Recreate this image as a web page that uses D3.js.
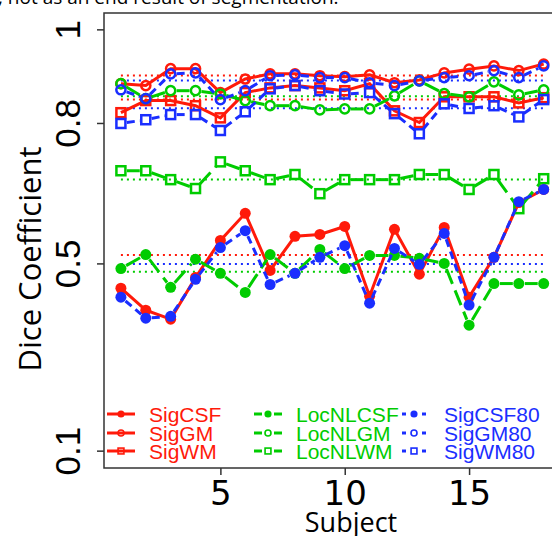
<!DOCTYPE html>
<html>
<head>
<meta charset="utf-8">
<script src="https://cdn.jsdelivr.net/npm/d3@7"></script>
<style>
  body { margin: 0; background: #fff; }
  svg { display: block; }
</style>
</head>
<body>
<script>
// values, subjects 1..18
const subjects = d3.range(1, 19)

const sigCSF   = [0.448, 0.401, 0.382, 0.471, 0.550, 0.608, 0.486, 0.559, 0.563, 0.580, 0.431, 0.574, 0.478, 0.578, 0.429, 0.514, 0.631, 0.659]
const sigGM    = [0.885, 0.881, 0.917, 0.917, 0.866, 0.895, 0.906, 0.906, 0.902, 0.900, 0.904, 0.887, 0.893, 0.908, 0.916, 0.923, 0.913, 0.927]
const sigWM    = [0.823, 0.849, 0.849, 0.838, 0.812, 0.866, 0.876, 0.881, 0.876, 0.870, 0.885, 0.827, 0.802, 0.857, 0.857, 0.857, 0.844, 0.855]
const locCSF   = [0.490, 0.520, 0.450, 0.510, 0.480, 0.439, 0.520, 0.480, 0.531, 0.490, 0.518, 0.518, 0.512, 0.501, 0.369, 0.458, 0.458, 0.458]
const locGM    = [0.885, 0.853, 0.870, 0.870, 0.863, 0.849, 0.838, 0.838, 0.829, 0.831, 0.831, 0.859, 0.891, 0.864, 0.857, 0.889, 0.861, 0.872]
const locWM    = [0.699, 0.699, 0.680, 0.661, 0.718, 0.699, 0.680, 0.691, 0.650, 0.680, 0.680, 0.680, 0.691, 0.691, 0.659, 0.691, 0.618, 0.682]
const sigCSF80 = [0.429, 0.384, 0.388, 0.467, 0.535, 0.571, 0.456, 0.480, 0.514, 0.539, 0.416, 0.533, 0.499, 0.565, 0.412, 0.514, 0.633, 0.659]
const sigGM80  = [0.872, 0.853, 0.906, 0.908, 0.851, 0.870, 0.902, 0.904, 0.898, 0.898, 0.887, 0.881, 0.891, 0.898, 0.902, 0.913, 0.898, 0.923]
const sigWM80  = [0.800, 0.808, 0.819, 0.819, 0.785, 0.825, 0.874, 0.881, 0.870, 0.863, 0.866, 0.821, 0.778, 0.842, 0.832, 0.838, 0.814, 0.851]

const yTicks = [0.1, 0.5, 0.8, 1]
const xTicks = [5, 10, 15]

const red = '#ff1a0a', green = '#00cc00', blue = '#1a2eff'

const series = [
  { name: 'SigCSF',    values: sigCSF,   color: red,   shape: 'dot',    style: 'solid' },
  { name: 'SigGM',     values: sigGM,    color: red,   shape: 'circle', style: 'solid' },
  { name: 'SigWM',     values: sigWM,    color: red,   shape: 'square', style: 'solid' },
  { name: 'LocNLCSF',  values: locCSF,   color: green, shape: 'dot',    style: 'long' },
  { name: 'LocNLGM',   values: locGM,    color: green, shape: 'circle', style: 'long' },
  { name: 'LocNLWM',   values: locWM,    color: green, shape: 'square', style: 'long' },
  { name: 'SigCSF80',  values: sigCSF80, color: blue,  shape: 'dot',    style: 'short' },
  { name: 'SigGM80',   values: sigGM80,  color: blue,  shape: 'circle', style: 'short' },
  { name: 'SigWM80',   values: sigWM80,  color: blue,  shape: 'square', style: 'short' }
]

const dash = { solid: null, long: '16,7', short: '8,5' }

const W = 552, H = 536
const plot = { left: 104, right: 560.6, top: 13, bottom: 468 }

const x = d3.scaleLinear().domain([0.32, 18.68]).range([plot.left, plot.right])
const y = d3.scaleLinear().domain([0.064, 1.036]).range([plot.bottom, plot.top])

const svg = d3.select('body').append('svg')
    .attr('width', W)
    .attr('height', H)

// bit of text from the page above the figure
svg.append('text')
  .attr('x', -2).attr('y', 4)
  .attr('font-family', 'Open Sans')
  .attr('font-size', 19)
  .text(', not as an end result of segmentation.')

// mean lines (dotted)
svg.append('g').selectAll('line')
    .data(series)
  .enter().append('line')
    .attr('x1', x(1)).attr('x2', x(18))
    .attr('y1', (d) => y(d3.mean(d.values)))
    .attr('y2', (d) => y(d3.mean(d.values)))
    .attr('stroke', (d) => d.color)
    .attr('stroke-width', 2)
    .attr('stroke-dasharray', '2,4')

const line = d3.line()
  .x((d, i) => x(subjects[i]))
  .y((d) => y(d))

const gap = 6

series.forEach((s) => {
  let g = svg.append('g')
  if (s.style === 'solid') {
    g.append('path')
      .attr('d', line(s.values))
      .attr('fill', 'none')
      .attr('stroke', s.color)
      .attr('stroke-width', 3)
  } else {
    // type "b": segments stop short of the points
    let segs = d3.pairs(s.values.map((v, i) => [x(subjects[i]), y(v)]))
    g.selectAll('line')
        .data(segs)
      .enter().append('line')
        .each(function (p) {
          let dx = p[1][0] - p[0][0], dy = p[1][1] - p[0][1]
          let len = Math.hypot(dx, dy)
          let ux = dx / len, uy = dy / len
          d3.select(this)
            .attr('x1', p[0][0] + ux * gap).attr('y1', p[0][1] + uy * gap)
            .attr('x2', p[1][0] - ux * gap).attr('y2', p[1][1] - uy * gap)
        })
        .attr('stroke', s.color)
        .attr('stroke-width', 3)
        .attr('stroke-dasharray', dash[s.style])
  }
  g.selectAll('.pt')
      .data(s.values)
    .enter().append('g')
      .attr('transform', (d, i) => 'translate(' + [x(subjects[i]), y(d)] + ')')
      .each(function () { marker(d3.select(this), s, 1) })
})

function marker(sel, s, k) {
  if (s.shape === 'dot') {
    sel.append('circle').attr('r', 5.5 * k).attr('fill', s.color)
  } else if (s.shape === 'circle') {
    sel.append('circle').attr('r', 4.6 * k)
      .attr('fill', 'none').attr('stroke', s.color).attr('stroke-width', 2.5 * k)
  } else {
    sel.append('rect')
      .attr('x', -4.5 * k).attr('y', -4.5 * k)
      .attr('width', 9 * k).attr('height', 9 * k)
      .attr('fill', 'none').attr('stroke', s.color).attr('stroke-width', 2.5 * k)
  }
}

// frame
svg.append('rect')
  .attr('x', plot.left).attr('y', plot.top)
  .attr('width', plot.right - plot.left)
  .attr('height', plot.bottom - plot.top)
  .attr('fill', 'none')
  .attr('stroke', '#333')
  .attr('stroke-width', 1.5)

// y axis
let yAxis = svg.append('g')
  .attr('transform', 'translate(' + plot.left + ',0)')
  .call(d3.axisLeft(y).tickValues(yTicks).tickSize(7).tickFormat(d3.format('')))
yAxis.select('.domain').remove()
yAxis.selectAll('line').attr('stroke', '#333').attr('stroke-width', 1.5)
yAxis.selectAll('text')
  .attr('font-family', 'Liberation Sans')
  .attr('font-size', 35)
  .attr('fill', '#000')
  .attr('text-anchor', 'middle')
  .attr('dy', null)
  .attr('x', null)
  .attr('transform', (d) => 'translate(' + [-24, y(d)] + ') rotate(-90)')
  .attr('y', 0)
yAxis.selectAll('.tick').attr('transform', null)
yAxis.selectAll('.tick line').attr('y1', (d) => y(d)).attr('y2', (d) => y(d))

// x axis
let xAxis = svg.append('g')
  .attr('transform', 'translate(0,' + plot.bottom + ')')
  .call(d3.axisBottom(x).tickValues(xTicks).tickSize(7))
xAxis.select('.domain').remove()
xAxis.selectAll('line').attr('stroke', '#333').attr('stroke-width', 1.5)
xAxis.selectAll('text')
  .attr('font-family', 'DejaVu Sans')
  .attr('font-size', 34)
  .attr('fill', '#000')
  .attr('dy', null)
  .attr('y', 37)

svg.append('text')
  .attr('x', 351).attr('y', 532)
  .attr('text-anchor', 'middle')
  .attr('font-family', 'Open Sans')
  .attr('font-size', 27)
  .text('Subject')

svg.append('text')
  .attr('transform', 'translate(41,259) rotate(-90)')
  .attr('text-anchor', 'middle')
  .attr('font-family', 'Open Sans')
  .attr('font-size', 31)
  .text('Dice Coefficient')

// legend
const legendCols = [
  { x0: 107, x1: 135, tx: 149 },
  { x0: 254, x1: 282, tx: 296 },
  { x0: 402, x1: 426, tx: 444 }
]
const legendRows = [414, 433, 451]

series.forEach((s, i) => {
  let c = legendCols[Math.floor(i / 3)], ry = legendRows[i % 3]
  let mx = (c.x0 + c.x1) / 2
  let g = svg.append('g')
  if (s.style === 'solid') {
    g.append('line')
      .attr('x1', c.x0).attr('x2', c.x1).attr('y1', ry).attr('y2', ry)
      .attr('stroke', s.color).attr('stroke-width', 3)
  } else {
    let seg = s.style === 'long' ? 8 : 4
    ;[[c.x0, c.x0 + seg], [c.x1 - seg, c.x1]].forEach((p) => {
      g.append('line')
        .attr('x1', p[0]).attr('x2', p[1]).attr('y1', ry).attr('y2', ry)
        .attr('stroke', s.color).attr('stroke-width', 3)
    })
  }
  marker(g.append('g').attr('transform', 'translate(' + [mx, ry] + ')'), s, 0.65)
  g.append('text')
    .attr('x', c.tx).attr('y', ry + 7.5)
    .attr('font-family', 'Liberation Sans')
    .attr('font-size', 21)
    .attr('fill', s.color)
    .text(s.name)
})
</script>
</body>
</html>
